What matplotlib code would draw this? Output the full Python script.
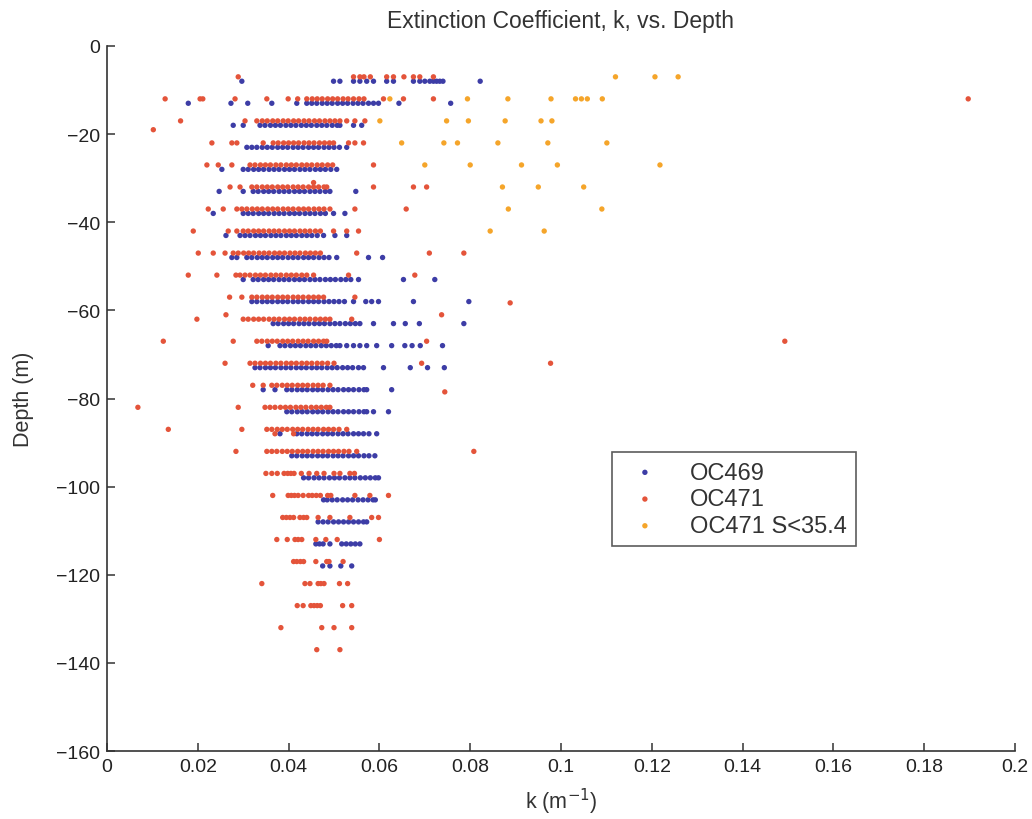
import matplotlib
matplotlib.use("Agg")
import matplotlib.pyplot as plt
from matplotlib.ticker import FuncFormatter, MultipleLocator

plt.rcParams['font.family'] = ['Liberation Sans', 'DejaVu Sans']

# ---------------- data ----------------
# OC469 : depth of each row (m) and the k values (1/m) on that row
oc469_depth = [-8, -13, -18, -23, -28, -33, -38, -43, -48, -53, -58, -63, -68,
               -73, -78, -83, -88, -93, -98, -103, -108, -113, -118]
oc469_k = [
    [0.0297, 0.0499, 0.0513, 0.0543, 0.0557, 0.0572, 0.0587, 0.0616, 0.0631, 0.0675, 0.0689,
     0.0700, 0.0711, 0.0719, 0.0726, 0.0733, 0.0740, 0.0822],
    [0.0179, 0.0273, 0.0310, 0.0363, 0.0418, 0.0440, 0.0451, 0.0462, 0.0474, 0.0485, 0.0496,
     0.0508, 0.0519, 0.0530, 0.0542, 0.0553, 0.0564, 0.0576, 0.0587, 0.0598, 0.0643, 0.0757],
    [0.0278, 0.0300, 0.0337, 0.0348, 0.0360, 0.0371, 0.0382, 0.0394, 0.0405, 0.0416, 0.0428,
     0.0439, 0.0450, 0.0462, 0.0473, 0.0484, 0.0496, 0.0507, 0.0513, 0.0543, 0.0561],
    [0.0308, 0.0319, 0.0330, 0.0342, 0.0353, 0.0364, 0.0376, 0.0387, 0.0398, 0.0410, 0.0421,
     0.0432, 0.0444, 0.0455, 0.0466, 0.0478, 0.0489, 0.0500, 0.0512, 0.0528],
    [0.0253, 0.0300, 0.0311, 0.0323, 0.0334, 0.0345, 0.0357, 0.0368, 0.0379, 0.0391, 0.0402,
     0.0413, 0.0425, 0.0436, 0.0447, 0.0459, 0.0470, 0.0481, 0.0493, 0.0506],
    [0.0247, 0.0300, 0.0322, 0.0333, 0.0345, 0.0356, 0.0367, 0.0379, 0.0390, 0.0401, 0.0413,
     0.0424, 0.0435, 0.0447, 0.0458, 0.0469, 0.0481, 0.0491, 0.0548],
    [0.0234, 0.0300, 0.0311, 0.0322, 0.0334, 0.0345, 0.0356, 0.0368, 0.0379, 0.0390, 0.0402,
     0.0413, 0.0424, 0.0436, 0.0447, 0.0458, 0.0470, 0.0481, 0.0499, 0.0524],
    [0.0262, 0.0293, 0.0304, 0.0315, 0.0327, 0.0338, 0.0349, 0.0361, 0.0372, 0.0383, 0.0395,
     0.0406, 0.0417, 0.0429, 0.0440, 0.0451, 0.0463, 0.0477, 0.0502, 0.0528],
    [0.0275, 0.0286, 0.0308, 0.0319, 0.0331, 0.0342, 0.0353, 0.0365, 0.0376, 0.0387, 0.0399,
     0.0410, 0.0421, 0.0433, 0.0444, 0.0455, 0.0467, 0.0478, 0.0489, 0.0506, 0.0576, 0.0607],
    [0.0300, 0.0322, 0.0333, 0.0345, 0.0356, 0.0367, 0.0379, 0.0390, 0.0401, 0.0413, 0.0424,
     0.0435, 0.0447, 0.0458, 0.0469, 0.0481, 0.0492, 0.0503, 0.0515, 0.0526, 0.0537, 0.0554,
     0.0653, 0.0722],
    [0.0319, 0.0330, 0.0342, 0.0353, 0.0364, 0.0376, 0.0387, 0.0398, 0.0410, 0.0421, 0.0432,
     0.0444, 0.0455, 0.0466, 0.0478, 0.0489, 0.0500, 0.0511, 0.0523, 0.0543, 0.0570, 0.0583,
     0.0598, 0.0675, 0.0797],
    [0.0366, 0.0377, 0.0389, 0.0400, 0.0411, 0.0423, 0.0434, 0.0445, 0.0457, 0.0468, 0.0479,
     0.0491, 0.0502, 0.0513, 0.0525, 0.0536, 0.0547, 0.0557, 0.0587, 0.0631, 0.0657, 0.0688,
     0.0786],
    [0.0355, 0.0381, 0.0392, 0.0404, 0.0415, 0.0426, 0.0438, 0.0449, 0.0460, 0.0472, 0.0483,
     0.0494, 0.0505, 0.0513, 0.0528, 0.0543, 0.0557, 0.0572, 0.0594, 0.0627, 0.0656, 0.0672,
     0.0690, 0.0739],
    [0.0326, 0.0337, 0.0349, 0.0360, 0.0371, 0.0383, 0.0394, 0.0405, 0.0417, 0.0428, 0.0439,
     0.0451, 0.0462, 0.0473, 0.0485, 0.0496, 0.0507, 0.0519, 0.0530, 0.0541, 0.0554, 0.0565,
     0.0609, 0.0668, 0.0706, 0.0743],
    [0.0344, 0.0370, 0.0396, 0.0407, 0.0419, 0.0430, 0.0441, 0.0453, 0.0464, 0.0475, 0.0487,
     0.0498, 0.0509, 0.0521, 0.0532, 0.0543, 0.0555, 0.0566, 0.0572, 0.0627],
    [0.0396, 0.0407, 0.0419, 0.0430, 0.0441, 0.0453, 0.0464, 0.0475, 0.0487, 0.0498, 0.0509,
     0.0521, 0.0532, 0.0543, 0.0555, 0.0566, 0.0572, 0.0587, 0.0620],
    [0.0381, 0.0418, 0.0429, 0.0441, 0.0452, 0.0463, 0.0475, 0.0486, 0.0497, 0.0509, 0.0520,
     0.0531, 0.0543, 0.0554, 0.0565, 0.0577, 0.0594],
    [0.0407, 0.0418, 0.0430, 0.0441, 0.0452, 0.0464, 0.0475, 0.0486, 0.0498, 0.0509, 0.0520,
     0.0532, 0.0543, 0.0554, 0.0566, 0.0577, 0.0590],
    [0.0433, 0.0444, 0.0456, 0.0467, 0.0478, 0.0490, 0.0501, 0.0512, 0.0524, 0.0535, 0.0546,
     0.0558, 0.0569, 0.0580, 0.0591, 0.0598],
    [0.0477, 0.0485, 0.0496, 0.0507, 0.0519, 0.0530, 0.0541, 0.0553, 0.0564, 0.0575, 0.0586,
     0.0591],
    [0.0465, 0.0476, 0.0487, 0.0499, 0.0510, 0.0521, 0.0532, 0.0543, 0.0554, 0.0565, 0.0572],
    [0.0460, 0.0468, 0.0476, 0.0491, 0.0517, 0.0527, 0.0537, 0.0547, 0.0557],
    [0.0475, 0.0491, 0.0515, 0.0539],
]

# OC471
oc471_depth = [-7, -12, -17, -19, -22, -27, -31, -32, -37, -42, -47, -52, -57, -58.3,
               -61, -62, -67, -72, -77, -78.5, -82, -87, -88, -92, -97, -102, -107,
               -112, -117, -122, -127, -132, -137]
oc471_k = [
    [0.0289, 0.0543, 0.0557, 0.0566, 0.0580, 0.0616, 0.0631, 0.0654, 0.0675, 0.0689, 0.0719],
    [0.0128, 0.0205, 0.0211, 0.0282, 0.0352, 0.0399, 0.0420, 0.0440, 0.0452, 0.0463, 0.0474,
     0.0486, 0.0497, 0.0508, 0.0520, 0.0531, 0.0543, 0.0555, 0.0566, 0.0609, 0.0653, 0.0719,
     0.1897],
    [0.0162, 0.0304, 0.0330, 0.0342, 0.0353, 0.0365, 0.0376, 0.0388, 0.0399, 0.0411, 0.0422,
     0.0434, 0.0445, 0.0457, 0.0468, 0.0480, 0.0491, 0.0502, 0.0513, 0.0528, 0.0546, 0.0568],
    [0.0102],
    [0.0231, 0.0275, 0.0286, 0.0344, 0.0366, 0.0377, 0.0389, 0.0400, 0.0411, 0.0422, 0.0434,
     0.0445, 0.0456, 0.0468, 0.0479, 0.0490, 0.0499, 0.0532, 0.0546, 0.0565],
    [0.0220, 0.0245, 0.0275, 0.0315, 0.0326, 0.0338, 0.0349, 0.0360, 0.0372, 0.0383, 0.0395,
     0.0406, 0.0417, 0.0429, 0.0440, 0.0451, 0.0463, 0.0474, 0.0486, 0.0497, 0.0587],
    [0.0455],
    [0.0271, 0.0293, 0.0319, 0.0330, 0.0342, 0.0353, 0.0364, 0.0376, 0.0387, 0.0398, 0.0410,
     0.0421, 0.0432, 0.0444, 0.0455, 0.0466, 0.0478, 0.0484, 0.0587, 0.0675, 0.0704],
    [0.0223, 0.0256, 0.0286, 0.0297, 0.0308, 0.0320, 0.0331, 0.0342, 0.0354, 0.0365, 0.0376,
     0.0388, 0.0399, 0.0410, 0.0422, 0.0433, 0.0444, 0.0456, 0.0467, 0.0478, 0.0491, 0.0546,
     0.0659],
    [0.0190, 0.0267, 0.0286, 0.0300, 0.0311, 0.0323, 0.0334, 0.0345, 0.0357, 0.0368, 0.0379,
     0.0391, 0.0402, 0.0413, 0.0425, 0.0436, 0.0447, 0.0459, 0.0470, 0.0499, 0.0528, 0.0554],
    [0.0201, 0.0234, 0.0260, 0.0278, 0.0289, 0.0301, 0.0312, 0.0323, 0.0335, 0.0346, 0.0357,
     0.0369, 0.0380, 0.0391, 0.0403, 0.0414, 0.0425, 0.0437, 0.0448, 0.0459, 0.0470, 0.0550,
     0.0710, 0.0786],
    [0.0179, 0.0242, 0.0284, 0.0293, 0.0304, 0.0315, 0.0327, 0.0338, 0.0349, 0.0361, 0.0372,
     0.0383, 0.0395, 0.0406, 0.0417, 0.0429, 0.0440, 0.0455, 0.0532, 0.0678],
    [0.0270, 0.0297, 0.0319, 0.0330, 0.0342, 0.0353, 0.0364, 0.0376, 0.0387, 0.0398, 0.0410,
     0.0421, 0.0432, 0.0444, 0.0455, 0.0466, 0.0477, 0.0546],
    [0.0888],
    [0.0262, 0.0737],
    [0.0198, 0.0300, 0.0311, 0.0323, 0.0334, 0.0345, 0.0357, 0.0368, 0.0379, 0.0391, 0.0402,
     0.0413, 0.0425, 0.0436, 0.0447, 0.0459, 0.0470, 0.0481, 0.0491, 0.0539],
    [0.0124, 0.0278, 0.0330, 0.0341, 0.0353, 0.0364, 0.0375, 0.0387, 0.0398, 0.0409, 0.0421,
     0.0432, 0.0443, 0.0455, 0.0466, 0.0477, 0.0484, 0.0704, 0.1493],
    [0.0260, 0.0315, 0.0326, 0.0338, 0.0349, 0.0360, 0.0372, 0.0383, 0.0395, 0.0406, 0.0417,
     0.0429, 0.0440, 0.0451, 0.0463, 0.0474, 0.0486, 0.0500, 0.0693, 0.0977],
    [0.0321, 0.0344, 0.0363, 0.0374, 0.0386, 0.0397, 0.0408, 0.0420, 0.0431, 0.0442, 0.0454,
     0.0465, 0.0476, 0.0491],
    [0.0744],
    [0.0068, 0.0289, 0.0348, 0.0359, 0.0370, 0.0382, 0.0393, 0.0404, 0.0416, 0.0427, 0.0438,
     0.0450, 0.0461, 0.0472, 0.0483, 0.0491],
    [0.0135, 0.0297, 0.0352, 0.0363, 0.0375, 0.0386, 0.0397, 0.0409, 0.0420, 0.0431, 0.0443,
     0.0454, 0.0465, 0.0477, 0.0488, 0.0499, 0.0511, 0.0528],
    [0.0370, 0.0411],
    [0.0284, 0.0352, 0.0363, 0.0374, 0.0386, 0.0397, 0.0408, 0.0420, 0.0431, 0.0442, 0.0454,
     0.0465, 0.0476, 0.0488, 0.0499, 0.0510, 0.0522, 0.0533, 0.0550, 0.0808],
    [0.0350, 0.0363, 0.0375, 0.0390, 0.0398, 0.0405, 0.0412, 0.0428, 0.0445, 0.0462, 0.0478,
     0.0500, 0.0513, 0.0535, 0.0545],
    [0.0365, 0.0399, 0.0406, 0.0413, 0.0421, 0.0432, 0.0444, 0.0452, 0.0461, 0.0470, 0.0486,
     0.0493, 0.0546, 0.0579, 0.0620],
    [0.0387, 0.0395, 0.0403, 0.0411, 0.0425, 0.0433, 0.0440, 0.0465, 0.0491, 0.0535, 0.0583,
     0.0598],
    [0.0374, 0.0397, 0.0414, 0.0421, 0.0429, 0.0460, 0.0482, 0.0507, 0.0600],
    [0.0411, 0.0418, 0.0426, 0.0433, 0.0460, 0.0484, 0.0489, 0.0520],
    [0.0341, 0.0436, 0.0447, 0.0465, 0.0471, 0.0478, 0.0512, 0.0530],
    [0.0419, 0.0432, 0.0449, 0.0456, 0.0463, 0.0470, 0.0519, 0.0539],
    [0.0383, 0.0473, 0.0500, 0.0539],
    [0.0462, 0.0513],
]

# OC471 with salinity S < 35.4
oc471_low_s_depth = [-7, -12, -17, -22, -27, -32, -37, -42]
oc471_low_s_k = [
    [0.1120, 0.1207, 0.1258],
    [0.0623, 0.0794, 0.0883, 0.0978, 0.1032, 0.1045, 0.1058, 0.1091],
    [0.0601, 0.0748, 0.0796, 0.0877, 0.0956, 0.0980],
    [0.0649, 0.0742, 0.0772, 0.0861, 0.0971, 0.1101],
    [0.0700, 0.0800, 0.0913, 0.0992, 0.1218],
    [0.0871, 0.0950, 0.1050],
    [0.0884, 0.1090],
    [0.0844, 0.0963],
]

series_labels = ['OC469', 'OC471', 'OC471 S<35.4']
series_colors = ['#3d3da6', '#e4543a', '#f5a52a']


def flatten(depths, rows):
    xs, ys = [], []
    for d, row in zip(depths, rows):
        xs.extend(row)
        ys.extend([d] * len(row))
    return xs, ys


fig = plt.figure(figsize=(10.32, 8.20), dpi=100)
ax = fig.add_axes([0.1037, 0.0829, 0.8798, 0.8598])

for (depths, rows), lab, col in zip(
        [(oc469_depth, oc469_k), (oc471_depth, oc471_k), (oc471_low_s_depth, oc471_low_s_k)],
        series_labels, series_colors):
    x, y = flatten(depths, rows)
    ax.scatter(x, y, s=15, color=col, edgecolors='none', label=lab)

ax.set_xlim(0, 0.2)
ax.set_ylim(-160, 0)
ax.xaxis.set_major_locator(MultipleLocator(0.02))
ax.yaxis.set_major_locator(MultipleLocator(20))
fmt = FuncFormatter(lambda v, p: ('%g' % round(v, 6)).replace('-', '\u2212'))
ax.xaxis.set_major_formatter(fmt)
ax.yaxis.set_major_formatter(fmt)

for s in ['top', 'right']:
    ax.spines[s].set_visible(False)
for s in ['left', 'bottom']:
    ax.spines[s].set_color('#333333')
    ax.spines[s].set_linewidth(1.2)
ax.tick_params(direction='in', length=6, width=1.1, color='#333333',
               labelsize=14, labelcolor='#222222', pad=5)

ax.set_title('Extinction Coefficient, k, vs. Depth', fontsize=16.5, color='#333333', pad=14)
ax.set_xlabel('k (m$^{-1}$)', fontsize=15.5, color='#333333', labelpad=8)
ax.set_ylabel('Depth (m)', fontsize=15.5, color='#333333', labelpad=16)

leg = ax.legend(loc='upper left', bbox_to_anchor=(0.556, 0.424), borderaxespad=0,
                fontsize=17, frameon=True, fancybox=False, markerscale=1.0,
                handletextpad=0.9, labelspacing=0.2, borderpad=0.4, handlelength=2.0)
leg.get_frame().set_edgecolor('#333333')
leg.get_frame().set_linewidth(1.2)
for t in leg.get_texts():
    t.set_color('#333333')

fig.savefig('out.png', dpi=100, facecolor='white')
